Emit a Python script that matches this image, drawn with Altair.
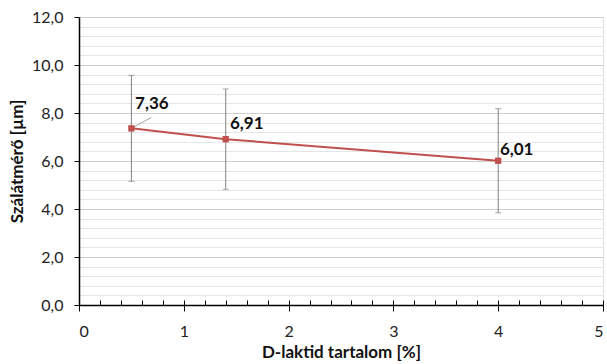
import altair as alt
import pandas as pd

# data
d_laktid = [0.5, 1.4, 4.0]
atmero = [7.36, 6.91, 6.01]
err_low = [5.15, 4.82, 3.84]
err_high = [9.57, 9.00, 8.18]
labels = ["7,36", "6,91", "6,01"]

x_major = [0, 1, 2, 3, 4, 5]
y_major = [0, 2, 4, 6, 8, 10, 12]
x_minor = [round(i * 0.2, 1) for i in range(26)]
y_minor = [round(i * 0.4, 1) for i in range(31) if (i % 5) != 0]

df = pd.DataFrame({"x": d_laktid, "y": atmero, "lo": err_low, "hi": err_high, "lab": labels})

FONT = "Lato"
RED = "#C0504D"
GRAY = "#808080"

xs = alt.Scale(domain=[0, 5], nice=False, zero=False)
ys = alt.Scale(domain=[0, 12], nice=False)

base = alt.Chart(df)

def X(axis=None):
    return alt.X("x:Q", scale=xs, axis=axis)

def Y(field, axis=None):
    return alt.Y(field, scale=ys, axis=axis)

# minor grid + inward minor ticks layer
minor = base.mark_rule(color=GRAY, strokeWidth=1).encode(
    x=X(alt.Axis(
        orient="top", offset=-288, values=x_minor, labels=False, domain=False,
        grid=False, ticks=True, tickSize=5, tickColor="black", tickWidth=1, title=None)),
    y=Y("lo:Q", alt.Axis(
        orient="right", values=y_minor, labels=False, domain=False, ticks=False,
        grid=True, gridColor="#e6e6e6", gridWidth=1, title=None)),
    y2="hi:Q",
)

caps_lo = base.mark_tick(orient="horizontal", size=6, thickness=1, color=GRAY).encode(
    x=X(), y=Y("lo:Q"))
caps_hi = base.mark_tick(orient="horizontal", size=6, thickness=1, color=GRAY).encode(
    x=X(), y=Y("hi:Q"))

line = base.mark_line(color=RED, strokeWidth=2).encode(
    x=X(alt.Axis(
        orient="bottom", values=x_major, format="d", grid=False, domainColor="black",
        domainWidth=1.5, tickColor="black", tickSize=6, tickWidth=1, labelPadding=12,
        labelFontSize=16, labelFont=FONT, labelColor="#222222",
        title="D-laktid tartalom [%]", titleFont=FONT, titleFontSize=17,
        titleFontWeight="bold", titleColor="#111111", titlePadding=5)),
    y=Y("y:Q", alt.Axis(
        orient="left", values=y_major,
        labelExpr="replace(format(datum.value, '.1f'), '.', ',')",
        grid=True, gridColor="#d0d0d0", gridWidth=1, domainColor="black", domainWidth=1.5,
        tickColor="black", tickSize=5, labelPadding=11, labelFontSize=16, labelFont=FONT,
        labelColor="#222222",
        title="Szálátmérő [µm]", titleFont=FONT, titleFontSize=17, titleFontWeight="bold",
        titleColor="#111111", titlePadding=5)),
)

pts = base.mark_point(shape="square", filled=True, size=40, color=RED, opacity=1).encode(
    x=X(), y=Y("y:Q"))

leader = base.transform_filter(alt.datum.x == 0.5).mark_rule(
    color="#a6a6a6", strokeWidth=1, xOffset=2, yOffset=-1, x2Offset=20, y2Offset=-11
).encode(x=X(), y=Y("y:Q"), x2="x:Q", y2="y:Q")

offsets = {0.5: (20.5, -24), 1.4: (21, -15), 4.0: (18.5, -11)}
texts = []
for xv, (dx, dy) in offsets.items():
    texts.append(base.transform_filter(alt.datum.x == xv).mark_text(
        font=FONT, fontSize=17, fontWeight="bold", color="#111111",
        align="center", baseline="middle", dx=dx, dy=dy
    ).encode(x=X(), y=Y("y:Q"), text="lab:N"))

chart = alt.layer(minor, caps_lo, caps_hi, line, leader, pts, *texts).resolve_axis(
    x="independent", y="independent"
).properties(
    width=524, height=288,
    autosize=alt.AutoSizeParams(type="none"),
    padding={"left": 79, "top": 17, "right": 4, "bottom": 59},
).configure_view(stroke="#595959", strokeWidth=1).configure(background="white")

chart.save("out.html", embed_options={"renderer": "svg", "actions": False})
